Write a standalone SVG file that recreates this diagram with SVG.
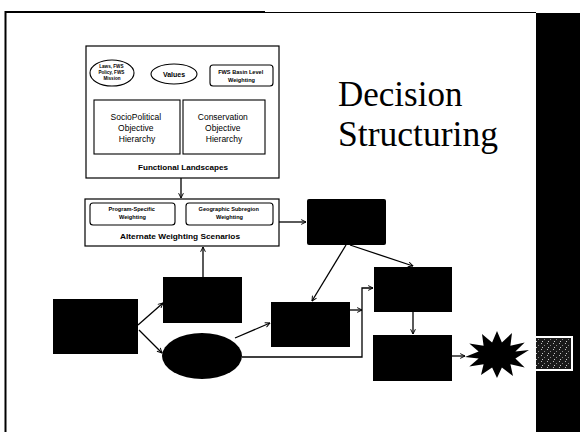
<svg xmlns="http://www.w3.org/2000/svg" width="580" height="432" viewBox="0 0 580 432">
  <style>
    .frame { fill: none; stroke: #000; }
    .box { fill: #fff; stroke: #000; stroke-width: 1.2; }
    .inner { fill: #fff; stroke: #000; stroke-width: 1.1; }
    .blk { fill: #000; stroke: none; }
    .conn { fill: none; stroke: #000; stroke-width: 1.3; }
    .lbl { font-family: "Liberation Sans", Arial, sans-serif; fill: #000; text-anchor: middle; }
    .b { font-weight: bold; }
    .title { font-family: "Liberation Serif", "Times New Roman", serif; font-size: 35px; fill: #000; }
  </style>
  <defs>
    <marker id="arr" viewBox="0 0 10 10" refX="9" refY="5" markerWidth="6" markerHeight="6" orient="auto" markerUnits="userSpaceOnUse">
      <path d="M1,1 L9,5 L1,9" fill="none" stroke="#000" stroke-width="1.6"/>
    </marker>
    <pattern id="speck" width="6" height="6" patternUnits="userSpaceOnUse">
      <rect width="6" height="6" fill="#1a1a1a"/>
      <rect x="1" y="1" width="1" height="1" fill="#bbb"/>
      <rect x="4" y="3" width="1" height="1" fill="#888"/>
      <rect x="2" y="5" width="1" height="1" fill="#ccc"/>
    </pattern>
  </defs>

  <rect width="580" height="432" fill="#fff"/>

  <!-- slide frame and right-hand band -->
  <g id="slide-frame">
    <line class="frame" x1="5" y1="12" x2="265" y2="12" stroke-width="2.2"/>
    <line class="frame" x1="265" y1="12.5" x2="536" y2="12.5" stroke-width="1.2"/>
    <line class="frame" x1="5.5" y1="11" x2="5.5" y2="432" stroke-width="2"/>
    <rect x="536" y="13" width="44" height="419" fill="#000"/>
    <rect x="534" y="336" width="39" height="35" fill="#fff"/>
    <rect x="536" y="338" width="35" height="31" fill="url(#speck)"/>
  </g>

  <g id="title">
    <text class="title" x="338" y="106">Decision</text>
    <text class="title" x="338" y="146" textLength="160" lengthAdjust="spacingAndGlyphs">Structuring</text>
  </g>

  <!-- Functional Landscapes container -->
  <g id="functional-landscapes">
    <rect class="box" x="86" y="46" width="193" height="132"/>
    <text class="lbl b" x="183" y="170" font-size="7.6" textLength="90" lengthAdjust="spacingAndGlyphs">Functional Landscapes</text>
  </g>
  <g id="laws-policy">
    <ellipse class="inner" cx="112" cy="73" rx="22" ry="13"/>
    <text class="lbl b" font-size="4.6">
      <tspan x="112" y="68">Laws, FWS</tspan>
      <tspan x="112" y="74">Policy, FWS</tspan>
      <tspan x="112" y="80">Mission</tspan>
    </text>
  </g>
  <g id="values">
    <ellipse class="inner" cx="174" cy="74" rx="23" ry="10"/>
    <text class="lbl b" x="174" y="77" font-size="7">Values</text>
  </g>
  <g id="fws-basin">
    <rect class="inner" x="210" y="65" width="63" height="21" rx="3"/>
    <text class="lbl b" font-size="5.6">
      <tspan x="241.5" y="74">FWS Basin Level</tspan>
      <tspan x="241.5" y="82">Weighting</tspan>
    </text>
  </g>
  <g id="sociopolitical">
    <rect class="inner" x="94" y="100" width="86" height="54"/>
    <text class="lbl" font-size="8.5">
      <tspan x="137" y="120">SocioPolitical</tspan>
      <tspan x="137" y="131">Objective</tspan>
      <tspan x="137" y="142">Hierarchy</tspan>
    </text>
  </g>
  <g id="conservation">
    <rect class="inner" x="183" y="100" width="82" height="54"/>
    <text class="lbl" font-size="8.5">
      <tspan x="224" y="120">Conservation</tspan>
      <tspan x="224" y="131">Objective</tspan>
      <tspan x="224" y="142">Hierarchy</tspan>
    </text>
  </g>

  <!-- Alternate Weighting Scenarios container -->
  <g id="alternate-weighting">
    <rect class="box" x="85" y="199" width="194" height="47"/>
    <text class="lbl b" x="180" y="239" font-size="7.6" textLength="120" lengthAdjust="spacingAndGlyphs">Alternate Weighting Scenarios</text>
  </g>
  <g id="program-specific">
    <rect class="inner" x="90" y="203" width="85" height="22" rx="3"/>
    <text class="lbl b" font-size="5.6">
      <tspan x="132.5" y="211">Program-Specific</tspan>
      <tspan x="132.5" y="219">Weighting</tspan>
    </text>
  </g>
  <g id="geographic-subregion">
    <rect class="inner" x="186" y="203" width="87" height="22" rx="3"/>
    <text class="lbl b" font-size="5.6">
      <tspan x="229.5" y="211">Geographic Subregion</tspan>
      <tspan x="229.5" y="219">Weighting</tspan>
    </text>
  </g>

  <!-- filled process shapes -->
  <g id="node-a"><rect class="blk" x="53" y="299" width="85" height="55"/></g>
  <g id="node-b"><rect class="blk" x="163" y="277" width="79" height="46"/></g>
  <g id="node-oval"><ellipse class="blk" cx="202" cy="356" rx="40" ry="23"/></g>
  <g id="node-top-right"><rect class="blk" x="307" y="199" width="79" height="46" rx="2"/></g>
  <g id="node-c"><rect class="blk" x="271" y="302" width="79" height="45"/></g>
  <g id="node-d"><rect class="blk" x="374" y="267" width="78" height="45"/></g>
  <g id="node-e"><rect class="blk" x="373" y="335" width="79" height="46"/></g>
  <g id="node-burst">
    <polygon class="blk" points="529,350 515.4,358.4 524.7,367.5 510.4,364.2 513,375.9 501.9,367.6 497,378 492.1,367.6 481,374.9 483.6,364.2 469.3,366.5 478.6,358.4 465,357 478.6,351.6 469.3,343.5 483.6,345.8 482,334.1 492.1,342.4 497,331 501.9,342.4 512,333.1 510.4,345.8 524.7,342.5 515.4,351.6"/>
  </g>

  <!-- connectors -->
  <g id="connectors">
    <line class="conn" x1="181" y1="178" x2="181" y2="198" marker-end="url(#arr)"/>
    <line class="conn" x1="279" y1="222" x2="306" y2="222" marker-end="url(#arr)"/>
    <line class="conn" x1="203" y1="277" x2="203" y2="247" marker-end="url(#arr)"/>
    <line class="conn" x1="138" y1="325" x2="163" y2="303" marker-end="url(#arr)"/>
    <line class="conn" x1="139" y1="330" x2="162" y2="353" marker-end="url(#arr)"/>
    <line class="conn" x1="235" y1="338" x2="270" y2="323" marker-end="url(#arr)"/>
    <polyline class="conn" points="242,357 362,357 362,288 373,288" marker-end="url(#arr)"/>
    <line class="conn" x1="350" y1="310" x2="362" y2="310" marker-end="url(#arr)"/>
    <line class="conn" x1="346" y1="245" x2="312" y2="301" marker-end="url(#arr)"/>
    <line class="conn" x1="350" y1="245" x2="413" y2="266" marker-end="url(#arr)"/>
    <line class="conn" x1="413" y1="312" x2="413" y2="334" marker-end="url(#arr)"/>
    <line class="conn" x1="452" y1="356" x2="465" y2="356" marker-end="url(#arr)"/>
  </g>
</svg>
